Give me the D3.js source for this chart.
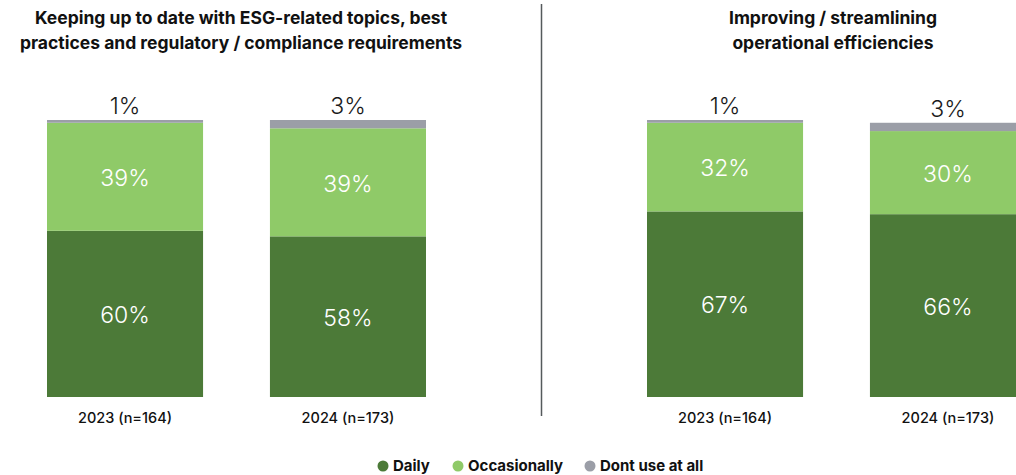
<!DOCTYPE html>
<html>
<head>
<meta charset="utf-8">
<script src="https://cdn.jsdelivr.net/npm/d3@7"></script>
<style>
  html, body { margin: 0; padding: 0; background: #fff; }
  svg { display: block; font-family: Inter, "Noto Sans", sans-serif; }
</style>
</head>
<body>
<svg id="chart" width="1016" height="475"></svg>
<script>
// Survey shares by year, two usage topics
const years = ["2023 (n=164)", "2024 (n=173)"];
const seriesNames = ["Daily", "Occasionally", "Dont use at all"];
const panelTitles = [
  ["Keeping up to date with ESG-related topics, best", "practices and regulatory / compliance requirements"],
  ["Improving / streamlining", "operational efficiencies"]
];
// values per panel, per year: [Daily, Occasionally, Dont use at all]
const esgDaily = [60, 58];
const esgOccasionally = [39, 39];
const esgNotUsed = [1, 3];
const opsDaily = [67, 66];
const opsOccasionally = [32, 30];
const opsNotUsed = [1, 3];

const colors = ["#4c7a38", "#8fca68", "#9b9ea7"];

const panels = [
  { title: panelTitles[0], daily: esgDaily, occ: esgOccasionally, none: esgNotUsed, offset: 0, titleX: 241 },
  { title: panelTitles[1], daily: opsDaily, occ: opsOccasionally, none: opsNotUsed, offset: 600, titleX: 833 }
];

const svg = d3.select("#chart");

const y = d3.scaleLinear().domain([0, 100]).range([397, 120]);
const stack = d3.stack().keys(seriesNames);

panels.forEach(p => {
  const x = d3.scaleBand().domain(years).range([47 + p.offset, 426 + p.offset])
    .paddingInner(0.3).paddingOuter(0);

  const rows = years.map((yr, i) => ({
    year: yr,
    "Daily": p.daily[i],
    "Occasionally": p.occ[i],
    "Dont use at all": p.none[i]
  }));
  const layers = stack(rows);

  const g = svg.append("g");

  // title
  g.append("text")
    .attr("x", p.titleX).attr("y", 24)
    .attr("text-anchor", "middle")
    .attr("font-size", 17.5).attr("font-weight", 700).attr("fill", "#111")
    .selectAll("tspan").data(p.title).join("tspan")
    .attr("x", p.titleX).attr("dy", (d, i) => i === 0 ? 0 : 25)
    .text(d => d);

  layers.forEach((layer, li) => {
    g.append("g").selectAll("rect").data(layer).join("rect")
      .attr("x", d => x(d.data.year))
      .attr("width", x.bandwidth())
      .attr("y", d => y(d[1]))
      .attr("height", d => y(d[0]) - y(d[1]))
      .attr("fill", colors[li]);

    g.append("g").selectAll("text").data(layer).join("text")
      .attr("x", d => x(d.data.year) + x.bandwidth() / 2)
      .attr("y", d => li === 2 ? y(d[1]) - 6 : (y(d[0]) + y(d[1])) / 2 + 3)
      .attr("text-anchor", "middle")
      .attr("dominant-baseline", li === 2 ? "auto" : "middle")
      .attr("font-size", 23).attr("font-weight", 300)
      .attr("fill", li === 2 ? "#1a1a1a" : "#fff")
      .text(d => (d[1] - d[0]) + "%");
  });

  // category labels
  const axis = d3.axisBottom(x).tickSize(0).tickPadding(0);
  const ax = g.append("g").attr("transform", "translate(0,413)").call(axis);
  ax.select(".domain").remove();
  ax.selectAll("text")
    .attr("font-family", "Inter, 'Noto Sans', sans-serif")
    .attr("font-size", 14.5).attr("font-weight", 500).attr("fill", "#111");
});

// divider between panels
svg.append("line")
  .attr("x1", 541.5).attr("x2", 541.5).attr("y1", 4).attr("y2", 416)
  .attr("stroke", "#555a5c").attr("stroke-width", 1.5);

// legend
const legendX = [383, 458, 590];
const legend = svg.append("g").selectAll("g").data(seriesNames).join("g")
  .attr("transform", (d, i) => `translate(${legendX[i]},466)`);
legend.append("circle").attr("r", 5.5).attr("fill", (d, i) => colors[i]);
legend.append("text")
  .attr("x", 10).attr("dy", "0.35em")
  .attr("font-size", 15).attr("font-weight", 700).attr("fill", "#111")
  .text(d => d);
</script>
</body>
</html>
